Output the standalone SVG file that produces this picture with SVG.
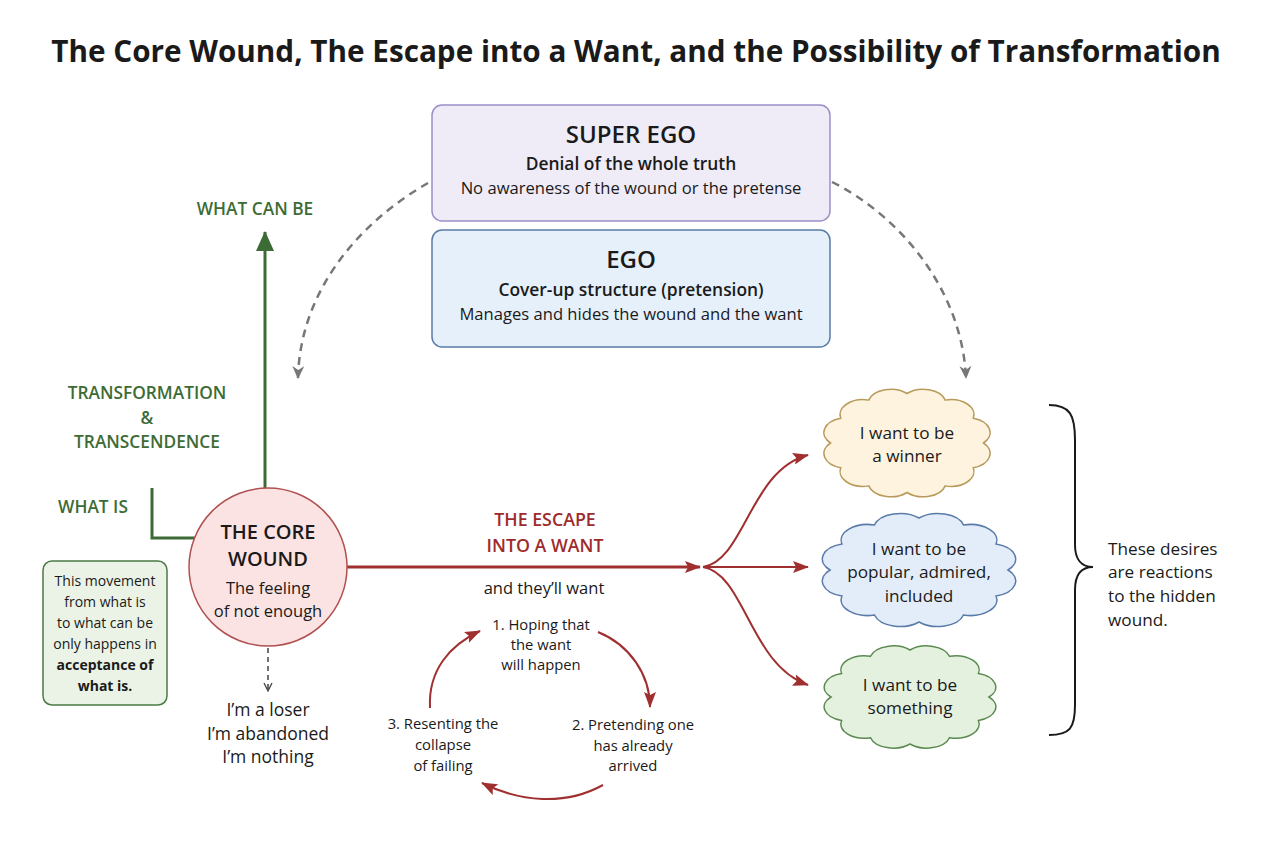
<svg xmlns="http://www.w3.org/2000/svg" xmlns:xlink="http://www.w3.org/1999/xlink" width="1280" height="853" viewBox="0 0 1280 853">
<style>
text{font-family:"Open Sans","Noto Sans","Liberation Sans",sans-serif;fill:#1a1a1a;text-anchor:middle}
.title{font-size:29.7px;font-weight:700}
.h{font-size:24px;font-weight:600}
.sb{font-size:17.4px;font-weight:600}
.s{font-size:16.6px}
.g{fill:#3d6b35;font-size:17.3px;font-weight:600}
.r{fill:#9e2b2b;font-size:17.8px;font-weight:600}
.cw{font-size:20px;font-weight:600}
.m{font-size:16.5px}
.n{font-size:14px}
.c{font-size:14.8px}
.cl{font-size:17.2px}
.l{font-size:17.5px}
.st{text-anchor:start}
.dash{fill:none;stroke:#777;stroke-width:2.5;stroke-dasharray:8 6}
.red{fill:none;stroke:#a03030;stroke-width:2}
</style>
<defs>
<marker id="ar" markerUnits="userSpaceOnUse" viewBox="0 0 16 12" refX="15" refY="6" markerWidth="16" markerHeight="12" orient="auto"><path d="M0,0 L16,6 L0,12 L3,6 Z" fill="#a03030"/></marker>
<marker id="ag" markerUnits="userSpaceOnUse" viewBox="0 0 20 20" refX="19" refY="10" markerWidth="20" markerHeight="20" orient="auto"><path d="M0,1 L20,10 L0,19 Z" fill="#3d6b35"/></marker>
<marker id="ad" markerUnits="userSpaceOnUse" viewBox="0 0 14 14" refX="12" refY="7" markerWidth="14" markerHeight="14" orient="auto"><path d="M0,1 L13,7 L0,13 L4,7 Z" fill="#777"/></marker>
<marker id="av" markerUnits="userSpaceOnUse" viewBox="0 0 10 10" refX="9" refY="5" markerWidth="10" markerHeight="10" orient="auto"><path d="M1,1 L9,5 L1,9" fill="none" stroke="#444" stroke-width="1.3"/></marker>
<path id="cloud" vector-effect="non-scaling-stroke" d="M100,0 A30,30 0 0 1 86.6,50 A30,30 0 0 1 50,86.6 A30,30 0 0 1 0,100 A30,30 0 0 1 -50,86.6 A30,30 0 0 1 -86.6,50 A30,30 0 0 1 -100,0 A30,30 0 0 1 -86.6,-50 A30,30 0 0 1 -50,-86.6 A30,30 0 0 1 0,-100 A30,30 0 0 1 50,-86.6 A30,30 0 0 1 86.6,-50 A30,30 0 0 1 100,0 Z"/>
</defs>
<rect width="1280" height="853" fill="#ffffff"/>
<text class="title" x="636" y="62">The Core Wound, The Escape into a Want, and the Possibility of Transformation</text>

<g id="connectors">
<path class="dash" d="M428,183 C360,222 300,290 298,378" marker-end="url(#ad)"/>
<path class="dash" d="M832,182 C900,216 962,290 966,378" marker-end="url(#ad)"/>
<line x1="265" y1="488" x2="265" y2="232" stroke="#3d6b35" stroke-width="3" marker-end="url(#ag)"/>
<path d="M152,488 L152,538 L196,538" fill="none" stroke="#3d6b35" stroke-width="3"/>
<line x1="347" y1="567" x2="700" y2="567" stroke="#a03030" stroke-width="3" marker-end="url(#ar)"/>
<path class="red" d="M703,567 C745,560 750,470 808,455" marker-end="url(#ar)"/>
<path class="red" d="M703,567 L808,567" marker-end="url(#ar)"/>
<path class="red" d="M703,567 C745,574 750,665 808,685" marker-end="url(#ar)"/>
<path class="red" d="M598,632 C630,645 650,675 650,707" marker-end="url(#ar)"/>
<path class="red" d="M603,785 C565,806 520,802 482,783" marker-end="url(#ar)"/>
<path class="red" d="M430,708 C428,670 450,645 480,631" marker-end="url(#ar)"/>
<line x1="268" y1="648" x2="268" y2="691" stroke="#444" stroke-width="1.5" stroke-dasharray="5 4" marker-end="url(#av)"/>
<path d="M1049,405 C1070,405 1075,415 1075,440 L1075,545 C1075,560 1082,567 1093,567 C1082,567 1075,574 1075,590 L1075,705 C1075,728 1070,735 1049,735" fill="none" stroke="#1a1a1a" stroke-width="2"/>
</g>

<g id="superego">
<rect x="432" y="105" width="398" height="116" rx="10" fill="#efecf8" stroke="#9b8fc7" stroke-width="1.5"/>
<text class="h" x="631" y="143">SUPER EGO</text>
<text class="sb" x="631" y="170">Denial of the whole truth</text>
<text class="s" x="631" y="194">No awareness of the wound or the pretense</text>
</g>
<g id="ego">
<rect x="432" y="230" width="398" height="117" rx="10" fill="#e6f0fb" stroke="#5a7ba8" stroke-width="1.5"/>
<text class="h" x="631" y="268">EGO</text>
<text class="sb" x="631" y="296">Cover-up structure (pretension)</text>
<text class="s" x="631" y="320">Manages and hides the wound and the want</text>
</g>

<g id="labels-green">
<text class="g" x="255" y="215">WHAT CAN BE</text>
<text class="g" x="147" y="399">TRANSFORMATION</text>
<text class="g" x="147" y="424">&amp;</text>
<text class="g" x="147" y="448">TRANSCENDENCE</text>
<text class="g" x="93" y="513">WHAT IS</text>
</g>

<g id="core">
<circle cx="268" cy="567" r="79" fill="#fbe3e3" stroke="#b05050" stroke-width="1.5"/>
<text class="cw" x="268" y="539">THE CORE</text>
<text class="cw" x="268" y="566">WOUND</text>
<text class="m" x="268" y="594">The feeling</text>
<text class="m" x="268" y="617">of not enough</text>
</g>

<g id="note">
<rect x="43" y="561" width="124" height="144" rx="9" fill="#eaf3e6" stroke="#4b7a45" stroke-width="1.5"/>
<text class="n" x="105" y="586">This movement</text>
<text class="n" x="105" y="607">from what is</text>
<text class="n" x="105" y="628">to what can be</text>
<text class="n" x="105" y="649">only happens in</text>
<text class="n" x="105" y="670" font-weight="700">acceptance of</text>
<text class="n" x="105" y="691" font-weight="700">what is.</text>
</g>

<g id="beliefs">
<text class="l" x="268" y="716">I’m a loser</text>
<text class="l" x="268" y="740">I’m abandoned</text>
<text class="l" x="268" y="763">I’m nothing</text>
</g>

<g id="escape">
<text class="r" x="545" y="526">THE ESCAPE</text>
<text class="r" x="545" y="552">INTO A WANT</text>
<text class="m" x="544" y="594">and they’ll want</text>
</g>

<g id="cycle1">
<text class="c" x="541" y="630">1. Hoping that</text>
<text class="c" x="541" y="650">the want</text>
<text class="c" x="541" y="670">will happen</text>
</g>
<g id="cycle2">
<text class="c" x="633" y="730">2. Pretending one</text>
<text class="c" x="633" y="751">has already</text>
<text class="c" x="633" y="771">arrived</text>
</g>
<g id="cycle3">
<text class="c" x="443" y="729">3. Resenting the</text>
<text class="c" x="443" y="750">collapse</text>
<text class="c" x="443" y="771">of failing</text>
</g>

<g id="want1">
<use xlink:href="#cloud" transform="translate(907,443) scale(0.765,0.495)" fill="#fdf3df" stroke="#b89a5a" stroke-width="1.5"/>
<text class="cl" x="907" y="439">I want to be</text>
<text class="cl" x="907" y="462">a winner</text>
</g>
<g id="want2">
<use xlink:href="#cloud" transform="translate(919,570) scale(0.89,0.52)" fill="#e3edf9" stroke="#5a7ba8" stroke-width="1.5"/>
<text class="cl" x="919" y="555">I want to be</text>
<text class="cl" x="919" y="578">popular, admired,</text>
<text class="cl" x="919" y="602">included</text>
</g>
<g id="want3">
<use xlink:href="#cloud" transform="translate(910,697) scale(0.79,0.47)" fill="#e5f1df" stroke="#5a8a50" stroke-width="1.5"/>
<text class="cl" x="910" y="691">I want to be</text>
<text class="cl" x="910" y="714">something</text>
</g>

<g id="brace-note">
<text class="cl st" x="1108" y="555">These desires</text>
<text class="cl st" x="1108" y="578">are reactions</text>
<text class="cl st" x="1108" y="602">to the hidden</text>
<text class="cl st" x="1108" y="626">wound.</text>
</g>
</svg>
